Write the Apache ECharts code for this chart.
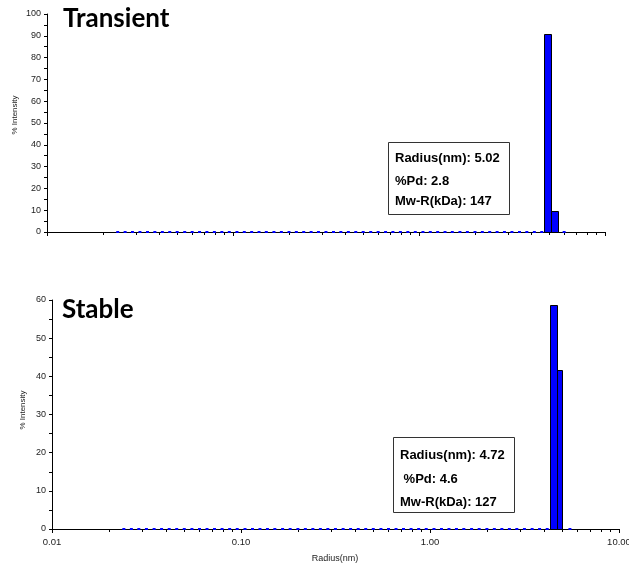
<!DOCTYPE html>
<html><head><meta charset="utf-8">
<script src="https://cdn.jsdelivr.net/npm/echarts@6/dist/echarts.min.js"></script>
<style>html,body{margin:0;padding:0;background:#fff}#c{width:629px;height:566px}</style>
</head><body><div id="c"></div>
<script>
// Histogram bin centres (radius, nm)
const binRadii = [0.0240,0.0263,0.0288,0.0316,0.0347,0.0380,0.0417,0.0457,0.0501,0.0550,
  0.0603,0.0661,0.0724,0.0794,0.0871,0.0955,0.105,0.115,0.126,0.138,
  0.151,0.166,0.182,0.200,0.219,0.240,0.263,0.288,0.316,0.347,
  0.380,0.417,0.457,0.501,0.550,0.603,0.661,0.724,0.794,0.871,
  0.955,1.05,1.15,1.26,1.38,1.51,1.66,1.82,2.00,2.19,
  2.40,2.63,2.88,3.16,3.47,3.80,4.17,4.57,5.01,5.50,6.03];
// Non-zero bars: [radius low, radius high, % intensity]
const transientBars = [[4.72,5.14,90.8],[5.14,5.61,9.7]];
const stableBars = [[4.33,4.72,58.8],[4.72,5.01,41.7]];
const transientLastBin = 6.03;
const stableLastBin = 5.50;
const xTickLabels = ['0.01','0.10','1.00','10.00'];
const minorTickValues = [0.02,0.03,0.04,0.05,0.06,0.07,0.08,0.09,0.2,0.3,0.4,0.5,0.6,0.7,0.8,0.9,2,3,4,5,6,7,8,9];
const transientInfo = ['Radius(nm): 5.02','%Pd: 2.8','Mw-R(kDa): 147'];
const stableInfo = ['Radius(nm): 4.72',' %Pd: 4.6','Mw-R(kDa): 127'];

function zeroBins(bars, last) {
  return binRadii.filter(r => r <= last && !bars.some(b => r >= b[0] && r <= b[1])).map(r => [r, 0]);
}

const chart = echarts.init(document.getElementById('c'), null, {renderer: 'canvas'});
const axisFont = 'Liberation Sans';

function xAxisCfg(gridIndex, showLabels) {
  return {
    type: 'log', logBase: 10, gridIndex: gridIndex, min: 0.01, max: 10,
    axisLine: {lineStyle: {color: '#000', width: 1}},
    axisTick: {show: true, length: 4, lineStyle: {color: '#000'}},
    splitLine: {show: false},
    axisLabel: {show: showLabels, margin: 8, fontFamily: axisFont, fontSize: 9.5, color: '#222',
      hideOverlap: false, formatter: v => xTickLabels[Math.round(Math.log10(v)) + 2]}
  };
}
function yAxisCfg(gridIndex, max) {
  return {
    type: 'value', gridIndex: gridIndex, min: 0, max: max, interval: 10,
    axisLine: {show: true, lineStyle: {color: '#000', width: 1}},
    axisTick: {show: true, length: 3, lineStyle: {color: '#000'}},
    minorTick: {show: true, splitNumber: 2, length: 3, lineStyle: {color: '#000'}},
    splitLine: {show: false},
    axisLabel: {margin: 6, fontFamily: axisFont, fontSize: 9, color: '#222'}
  };
}
function barSeries(idx, data) {
  return {
    type: 'custom', xAxisIndex: idx, yAxisIndex: idx, data: data,
    encode: {x: [0, 1], y: 2}, z: 5,
    renderItem: function (params, api) {
      const p0 = api.coord([api.value(0), 0]);
      const p1 = api.coord([api.value(1), api.value(2)]);
      return {type: 'rect', shape: {x: Math.round(p0[0]) + 0.5, y: Math.round(p1[1]) + 0.5,
        width: Math.round(p1[0]) - Math.round(p0[0]), height: Math.round(p0[1]) - Math.round(p1[1])},
        style: {fill: '#0000ff', stroke: '#000', lineWidth: 1}};
    }
  };
}
function dashSeries(idx, data) {
  return {
    type: 'custom', xAxisIndex: idx, yAxisIndex: idx, data: data,
    encode: {x: 0, y: 1}, z: 4,
    renderItem: function (params, api) {
      const p = api.coord([api.value(0), api.value(1)]);
      return {type: 'rect', shape: {x: p[0] - 1.5, y: p[1] - 1, width: 3, height: 2},
        style: {fill: '#0000ff'}};
    }
  };
}
function minorTickSeries(idx) {
  return {
    type: 'custom', xAxisIndex: idx, yAxisIndex: idx, data: minorTickValues.map(v => [v, 0]),
    encode: {x: 0, y: 1}, z: 3, silent: true,
    renderItem: function (params, api) {
      const p = api.coord([api.value(0), 0]);
      const x = Math.round(p[0]) + 0.5;
      return {type: 'line', shape: {x1: x, y1: p[1], x2: x, y2: p[1] + 3},
        style: {stroke: '#000', lineWidth: 1}};
    }
  };
}
function infoBox(x, y, w, h, lines, ys) {
  const children = [{type: 'rect', shape: {x: x + 0.5, y: y + 0.5, width: w, height: h},
    style: {fill: '#fff', stroke: '#333', lineWidth: 1}}];
  lines.forEach((t, i) => children.push({type: 'text', x: x + 7, y: ys[i],
    style: {text: t, font: 'bold 13px "Liberation Sans"', fill: '#000', align: 'left', verticalAlign: 'middle'}}));
  return {type: 'group', children: children, z: 10};
}

chart.setOption({
  animation: false,
  backgroundColor: '#fff',
  grid: [
    {left: 47, right: 24, top: 14, height: 218, containLabel: false, outerBoundsMode: 'none'},
    {left: 52, right: 10, top: 300, height: 229, containLabel: false, outerBoundsMode: 'none'}
  ],
  xAxis: [xAxisCfg(0, false), xAxisCfg(1, true)],
  yAxis: [yAxisCfg(0, 100), yAxisCfg(1, 60)],
  series: [
    minorTickSeries(0), minorTickSeries(1),
    dashSeries(0, zeroBins(transientBars, transientLastBin)),
    dashSeries(1, zeroBins(stableBars, stableLastBin)),
    barSeries(0, transientBars), barSeries(1, stableBars)
  ],
  graphic: [
    {type: 'text', x: 63, y: 19, style: {text: 'Transient', font: 'bold 26px Lato', fill: '#000', verticalAlign: 'middle'}},
    {type: 'text', x: 62, y: 310, style: {text: 'Stable', font: 'bold 26px Lato', fill: '#000', verticalAlign: 'middle'}},
    {type: 'text', x: 15, y: 115, rotation: Math.PI / 2,
      style: {text: '% Intensity', font: '8px "Liberation Sans"', fill: '#222', align: 'center', verticalAlign: 'middle'}},
    {type: 'text', x: 23, y: 410, rotation: Math.PI / 2,
      style: {text: '% Intensity', font: '8px "Liberation Sans"', fill: '#222', align: 'center', verticalAlign: 'middle'}},
    {type: 'text', x: 335, y: 559,
      style: {text: 'Radius(nm)', font: '9px "Liberation Sans"', fill: '#222', align: 'center', verticalAlign: 'middle'}},
    infoBox(388, 142, 121, 72, transientInfo, [158, 181, 201]),
    infoBox(393, 437, 121, 75, stableInfo, [455, 479, 502])
  ]
});
</script></body></html>
